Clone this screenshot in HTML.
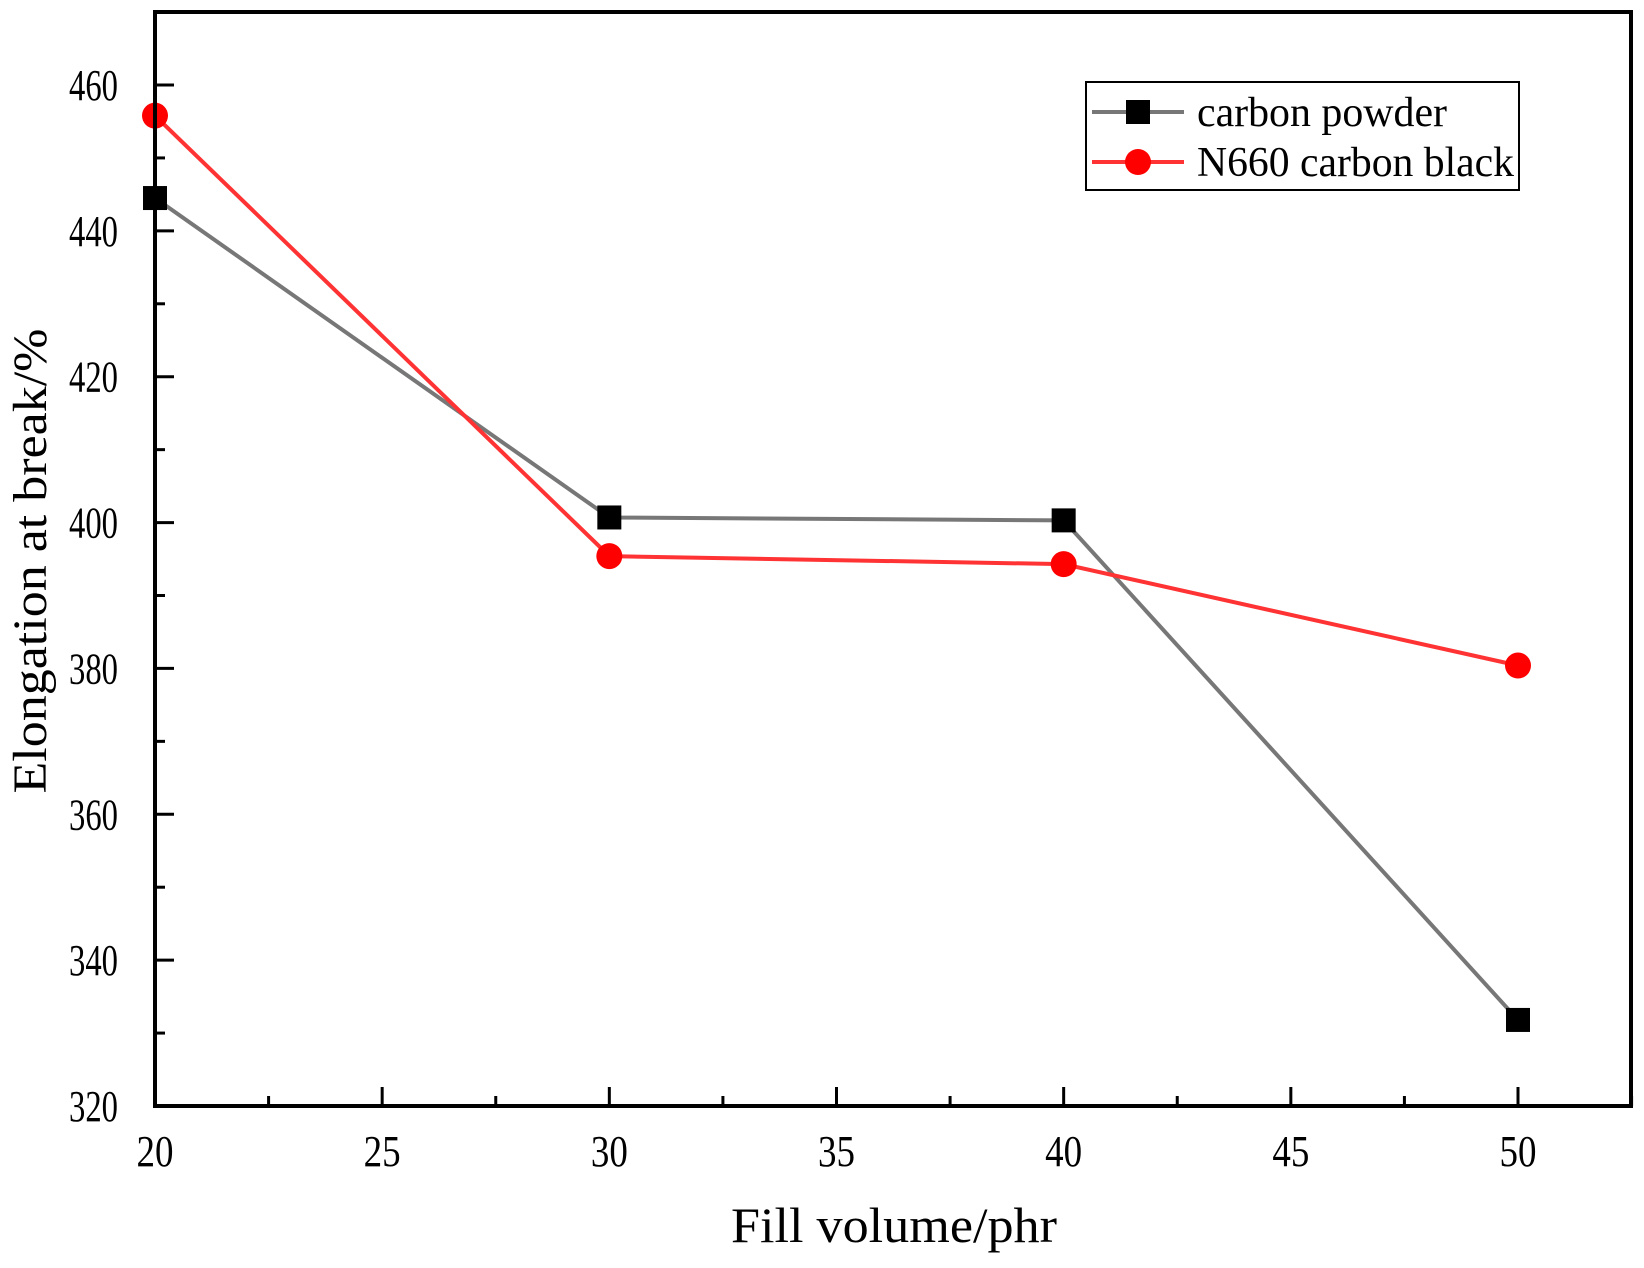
<!DOCTYPE html>
<html><head><meta charset="utf-8"><style>
html,body{margin:0;padding:0;background:#fff;}
svg{display:block;font-family:"Liberation Serif",serif;}
</style></head><body>
<svg width="1644" height="1268" viewBox="0 0 1644 1268">
<g id="plot"></g>
</svg>
<script>
const categories=[20,30,40,50];
const carbonPowder=[444.5,400.7,400.3,331.8];
const n660=[455.8,395.4,394.3,380.4];
const xTicks=[20,25,30,35,40,45,50];
const yTicks=[320,340,360,380,400,420,440,460];
const seriesNames=["carbon powder","N660 carbon black"];

const L=155,R=1631,T=12,B=1106;
const X=v=>L+(v-20)*(1518-155)/30;
const Y=v=>B-(v-320)*(B-85)/140;
const NS="http://www.w3.org/2000/svg";
const g=document.getElementById('plot');
function mk(t,a,txt){const e=document.createElementNS(NS,t);for(const k in a)e.setAttribute(k,a[k]);if(txt!=null)e.textContent=txt;g.appendChild(e);return e;}

function series(vals,color,marker,name){
 const p=mk('polyline',{points:vals.map((v,i)=>X(categories[i])+','+Y(v)).join(' '),fill:'none',stroke:color,'stroke-width':4});
 
 
 vals.forEach((v,i)=>{
  let m;
  if(marker==='sq') m=mk('rect',{x:X(categories[i])-12,y:Y(v)-12,width:24,height:24,fill:'#000'});
  else m=mk('circle',{cx:X(categories[i]),cy:Y(v),r:13,fill:'#f00'});
  
  
 });
}
series(carbonPowder,'#777','sq','carbon-powder');
series(n660,'#f33','ci','n660');

const frame=mk('rect',{x:L,y:T,width:R-L,height:B-T,fill:'none',stroke:'#000','stroke-width':4});



xTicks.forEach(v=>{
 const t=mk('line',{x1:X(v),x2:X(v),y1:B,y2:B-19,stroke:'#000','stroke-width':3});
 
 
 const m=mk('line',{x1:X(v+2.5),x2:X(v+2.5),y1:B,y2:B-10,stroke:'#000','stroke-width':3});
 
 
 const l=mk('text',{x:X(v),y:B+60,'text-anchor':'middle','font-size':44,textLength:37,lengthAdjust:'spacingAndGlyphs'},String(v));
 
 
});
yTicks.forEach(v=>{
 const t=mk('line',{x1:L,x2:L+19,y1:Y(v),y2:Y(v),stroke:'#000','stroke-width':3});
 
 
 if(v<460){const m=mk('line',{x1:L,x2:L+10,y1:Y(v+10),y2:Y(v+10),stroke:'#000','stroke-width':3});
 
 }
 const l=mk('text',{x:L-37,y:Y(v)+15,'text-anchor':'end','font-size':44,textLength:49,lengthAdjust:'spacingAndGlyphs'},String(v));
 
 
});
const xt=mk('text',{x:894,y:1242,'text-anchor':'middle','font-size':50,textLength:326,lengthAdjust:'spacingAndGlyphs'},'Fill volume/phr');


const yt=mk('text',{x:0,y:0,'text-anchor':'middle','font-size':48,textLength:465,lengthAdjust:'spacingAndGlyphs',transform:'translate(46,561) rotate(-90)'},'Elongation at break/%');



const lb=mk('rect',{x:1086,y:82,width:433,height:108,fill:'#fff',stroke:'#000','stroke-width':2});


const legLens=[250,317];
[['#777','sq',112],['#f33','ci',162]].forEach((s,i)=>{
 const l=mk('line',{x1:1092,x2:1184,y1:s[2],y2:s[2],stroke:s[0],'stroke-width':4});
 
 
 let m;
 if(s[1]==='sq') m=mk('rect',{x:1126,y:s[2]-12,width:24,height:24,fill:'#000'});
 else m=mk('circle',{cx:1138,cy:s[2],r:13,fill:'#f00'});
 
 
 const t=mk('text',{x:1197,y:s[2]+14,'font-size':42,textLength:legLens[i],lengthAdjust:'spacingAndGlyphs'},seriesNames[i]);
 
 
});
</script>
</body></html>
